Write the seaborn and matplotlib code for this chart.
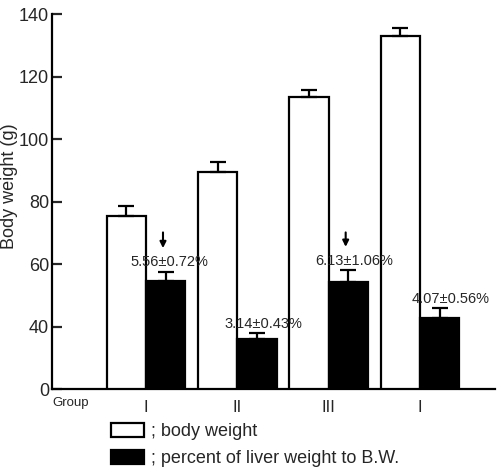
import matplotlib
matplotlib.use("Agg")
import matplotlib.pyplot as plt
from matplotlib.patches import Patch
import pandas as pd
import seaborn as sns

# values (y scale as labelled, baseline drawn at "0")
groups = ["G1", "G2", "G3", "G4"]
group_labels = ["I", "II", "III", "I"]
series = ["body weight", "percent of liver weight to B.W."]
body_weight = [75.5, 89.6, 113.3, 133.1]
body_weight_err = [3.2, 3.2, 2.5, 2.3]
liver_bar = [54.7, 36.1, 54.4, 42.6]
liver_err = [2.9, 1.7, 3.6, 3.2]
liver_text = ["5.56±0.72%", "3.14±0.43%", "6.13±1.06%", "4.07±0.56%"]
arrow_groups = [0, 2]
y_ticks = [20, 40, 60, 80, 100, 120, 140]
y_tick_labels = ["0", "40", "60", "80", "100", "120", "140"]

# layout only
text_dx = [0.045, 0.07, 0.06, 0.12]

df = pd.DataFrame({
    "group": groups * 2,
    "series": [series[0]] * 4 + [series[1]] * 4,
    "value": body_weight + liver_bar,
})

sns.set_style("ticks")
plt.rcParams["font.family"] = ["Liberation Sans", "DejaVu Sans"]

fig = plt.figure(figsize=(5.02, 4.75), dpi=100)
ax = fig.add_axes([0.1036, 0.181, 0.8825, 0.7895])

sns.barplot(data=df, x="group", y="value", hue="series", order=groups,
            hue_order=series, palette=["white", "black"], saturation=1,
            edgecolor="black", linewidth=1.6, width=0.86, errorbar=None,
            legend=False, ax=ax)

# upward-only error bars on top of each bar
for cont, vals, errs in zip(ax.containers, [body_weight, liver_bar],
                            [body_weight_err, liver_err]):
    xs = [p.get_x() + p.get_width() / 2 for p in cont]
    ax.errorbar(xs, vals, yerr=[[0] * len(errs), errs], fmt="none",
                ecolor="black", elinewidth=1.6, capsize=5.5, capthick=1.6,
                zorder=3)

# percentage labels and arrows over the black bars
black_x = [p.get_x() + p.get_width() / 2 for p in ax.containers[1]]
for i, txt in enumerate(liver_text):
    top = liver_bar[i] + liver_err[i]
    ax.text(black_x[i] + text_dx[i], top + 2.9, txt, ha="center",
            va="center", fontsize=10.5)
for i in arrow_groups:
    top = liver_bar[i] + liver_err[i]
    ax.annotate("", xy=(black_x[i] - 0.03, top + 6.6),
                xytext=(black_x[i] - 0.03, 71),
                arrowprops=dict(arrowstyle="-|>", color="black", lw=1.5,
                                mutation_scale=9))

ax.set_xlim(-1.03, 3.82)
ax.set_ylim(20, 140)
ax.set_yticks(y_ticks)
ax.set_yticklabels(y_tick_labels, fontsize=13)
ax.set_xticks(range(len(groups)))
ax.set_xticklabels(group_labels, fontsize=12)
ax.tick_params(axis="x", length=0, pad=8)
ax.tick_params(axis="y", direction="in", length=7, width=1.6, pad=2)
ax.set_xlabel("")
ax.set_ylabel("Body weight (g)", fontsize=13)
ax.yaxis.set_label_coords(-0.076, 0.541)
sns.despine(ax=ax)
for s in ["left", "bottom"]:
    ax.spines[s].set_linewidth(1.6)
    ax.spines[s].set_color("black")

ax.text(0.0, -0.036, "Group", transform=ax.transAxes, ha="left",
        va="center", fontsize=9.5)

handles = [Patch(facecolor="white", edgecolor="black", linewidth=1.6),
           Patch(facecolor="black", edgecolor="black", linewidth=1.6)]
fig.legend(handles, ["; " + s for s in series], loc="upper left",
           bbox_to_anchor=(0.221, 0.11), frameon=False, fontsize=13,
           handlelength=1.83, handleheight=0.8, handletextpad=0.4,
           labelspacing=0.55, borderaxespad=0, borderpad=0)

fig.savefig("out.png", dpi=100)
